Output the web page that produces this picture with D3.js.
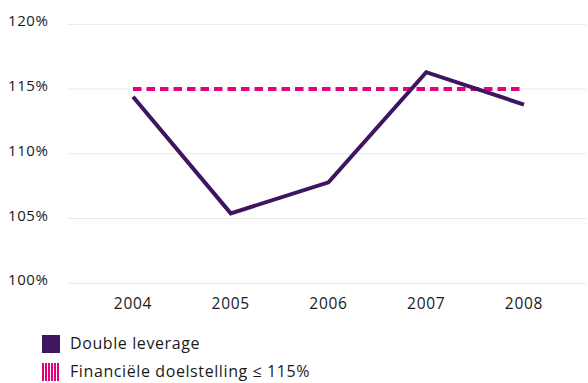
<!DOCTYPE html>
<html>
<head>
<meta charset="utf-8">
<script src="https://cdn.jsdelivr.net/npm/d3@7"></script>
<style>
  body { margin: 0; background: #fff; }
  svg text { font-family: "Open Sans", Lato, sans-serif; fill: #1a1a1a; }
</style>
</head>
<body>
<svg id="chart" width="588" height="383"></svg>
<script>
// data
const years = ["2004", "2005", "2006", "2007", "2008"];
const leverage = [114.4, 105.4, 107.8, 116.3, 113.8];
const target = [115, 115, 115, 115, 115];
const yTicks = [100, 105, 110, 115, 120];
const legendLabels = ["Double leverage", "Financiële doelstelling ≤ 115%"];

const purple = "#3d1560";
const pink = "#e6007e";

let svg = d3.select("#chart");

const x = d3.scalePoint()
    .domain(years)
    .range([133, 524]);

const y = d3.scaleLinear()
    .domain([100, 120])
    .range([283.3, 24.3]);

// gridlines
svg.append("g")
    .selectAll("line")
    .data(yTicks)
    .enter()
    .append("line")
    .attr("x1", 68)
    .attr("x2", 586)
    .attr("y1", d => y(d))
    .attr("y2", d => y(d))
    .attr("stroke", "#e8e8e8")
    .attr("stroke-width", 1);

// y labels
svg.append("g")
    .selectAll("text")
    .data(yTicks)
    .enter()
    .append("text")
    .attr("x", 8)
    .attr("y", d => y(d) + 2)
    .attr("font-size", 15)
    .attr("letter-spacing", 0.6)
    .text(d => d + "%");

// x labels
svg.append("g")
    .selectAll("text")
    .data(years)
    .enter()
    .append("text")
    .attr("x", d => x(d))
    .attr("y", 309)
    .attr("text-anchor", "middle")
    .attr("font-size", 15.5)
    .attr("letter-spacing", 0.7)
    .text(d => d);

// target line
const line = d3.line()
    .x((d, i) => x(years[i]))
    .y(d => y(d));

svg.append("path")
    .datum(target)
    .attr("d", line)
    .attr("fill", "none")
    .attr("stroke", pink)
    .attr("stroke-width", 4)
    .attr("stroke-dasharray", "8.5,5");

// double leverage line
svg.append("path")
    .datum(leverage)
    .attr("d", line)
    .attr("fill", "none")
    .attr("stroke", purple)
    .attr("stroke-width", 4)
    .attr("stroke-linejoin", "miter");

// legend
const defs = svg.append("defs");
const pat = defs.append("pattern")
    .attr("id", "stripes")
    .attr("patternUnits", "userSpaceOnUse")
    .attr("width", 3)
    .attr("height", 3);
pat.append("rect").attr("width", 3).attr("height", 3).attr("fill", "#fff");
pat.append("rect").attr("width", 2).attr("height", 3).attr("fill", pink);

const legend = svg.append("g");
legend.append("rect")
    .attr("x", 42).attr("y", 335)
    .attr("width", 18).attr("height", 18)
    .attr("fill", purple);
legend.append("rect")
    .attr("x", 42).attr("y", 363)
    .attr("width", 18).attr("height", 18)
    .attr("fill", "url(#stripes)");

legend.selectAll("text")
    .data(legendLabels)
    .enter()
    .append("text")
    .attr("x", 70)
    .attr("y", (d, i) => 349 + i * 28)
    .attr("font-size", 16)
    .attr("letter-spacing", 0.6)
    .text(d => d);
</script>
</body>
</html>
